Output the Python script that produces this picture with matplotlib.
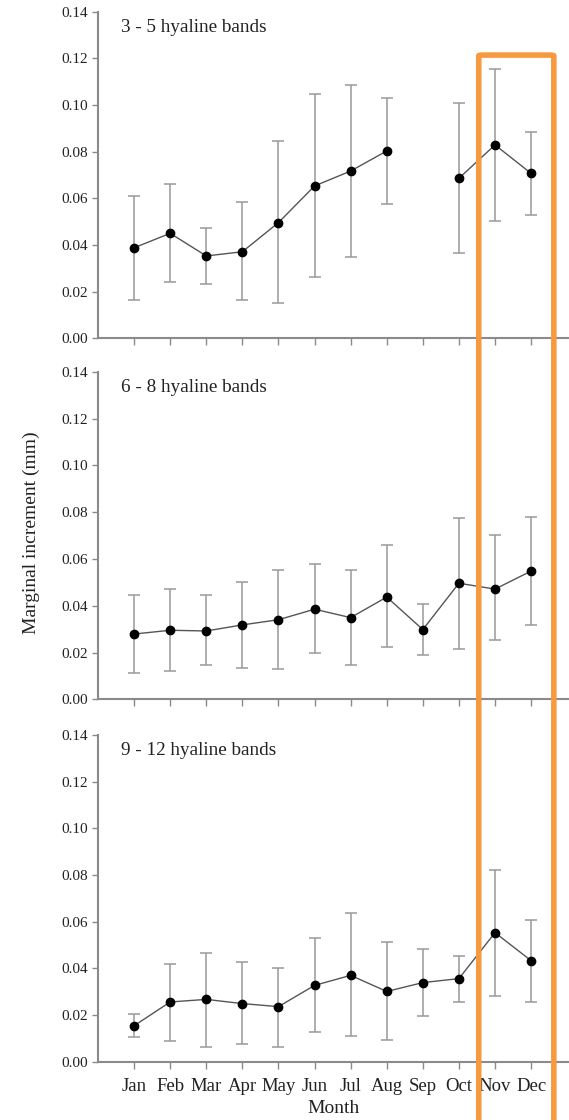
import numpy as np
import matplotlib
matplotlib.use("Agg")
import matplotlib.pyplot as plt
from matplotlib.patches import FancyBboxPatch

plt.rcParams['font.family'] = ['Liberation Serif', 'DejaVu Serif']

months = ["Jan", "Feb", "Mar", "Apr", "May", "Jun", "Jul", "Aug", "Sep", "Oct", "Nov", "Dec"]
panel_titles = ["3 - 5 hyaline bands", "6 - 8 hyaline bands", "9 - 12 hyaline bands"]
yticks = [0.00, 0.02, 0.04, 0.06, 0.08, 0.10, 0.12, 0.14]

nan = np.nan
# 3 - 5 hyaline bands (Sep missing)
mean_1 = [0.0388, 0.0450, 0.0353, 0.0371, 0.0496, 0.0653, 0.0717, 0.0803, nan, 0.0686, 0.0829, 0.0707]
upper_1 = [0.0611, 0.0660, 0.0471, 0.0583, 0.0844, 0.1046, 0.1084, 0.1031, nan, 0.1007, 0.1156, 0.0883]
lower_1 = [0.0164, 0.0240, 0.0233, 0.0164, 0.0153, 0.0264, 0.0350, 0.0574, nan, 0.0364, 0.0504, 0.0527]
# 6 - 8 hyaline bands
mean_2 = [0.0279, 0.0295, 0.0292, 0.0318, 0.0340, 0.0385, 0.0349, 0.0437, 0.0298, 0.0496, 0.0471, 0.0548]
upper_2 = [0.0446, 0.0470, 0.0446, 0.0503, 0.0554, 0.0577, 0.0554, 0.0659, 0.0406, 0.0775, 0.0702, 0.0779]
lower_2 = [0.0114, 0.0122, 0.0147, 0.0135, 0.0130, 0.0199, 0.0147, 0.0224, 0.0191, 0.0215, 0.0254, 0.0318]
# 9 - 12 hyaline bands
mean_3 = [0.0154, 0.0256, 0.0267, 0.0249, 0.0236, 0.0327, 0.0370, 0.0301, 0.0339, 0.0356, 0.0553, 0.0433]
upper_3 = [0.0203, 0.0420, 0.0467, 0.0427, 0.0400, 0.0529, 0.0637, 0.0513, 0.0481, 0.0453, 0.0823, 0.0606]
lower_3 = [0.0104, 0.0090, 0.0064, 0.0074, 0.0064, 0.0126, 0.0111, 0.0091, 0.0196, 0.0256, 0.0281, 0.0257]

means = [mean_1, mean_2, mean_3]
uppers = [upper_1, upper_2, upper_3]
lowers = [lower_1, lower_2, lower_3]

W, H = 569, 1120
fig = plt.figure(figsize=(W / 100, H / 100), dpi=100)

# panel extents in pixels (top, bottom)
panels_px = [(11.7, 338.3), (371.7, 699.3), (735.0, 1061.7)]
left_px, right_px = 98, 569

x = np.arange(1, 13)
spine_col = '#8a8a8a'
axes = []
for i, (top, bot) in enumerate(panels_px):
    ax = fig.add_axes([left_px / W, 1 - bot / H, (right_px - left_px) / W, (bot - top) / H])
    axes.append(ax)
    m = np.array(means[i], dtype=float)
    up = np.array(uppers[i], dtype=float)
    lo = np.array(lowers[i], dtype=float)
    ax.errorbar(x, m, yerr=[m - lo, up - m], fmt='none', ecolor='#999999',
                elinewidth=1.1, capsize=4.5, capthick=1.1, zorder=2)
    ax.plot(x, m, '-', color='#555555', lw=1.0, zorder=3)
    ax.plot(x, m, 'o', color='black', ms=6, zorder=4)
    ax.set_xlim(0, 13.05)
    ax.set_ylim(0, 0.14)
    ax.set_yticks(yticks)
    ax.set_yticklabels([f"{v:.2f}" for v in yticks], fontsize=11)
    ax.set_xticks(x)
    for s in ['top', 'right']:
        ax.spines[s].set_visible(False)
    for s in ['left', 'bottom']:
        ax.spines[s].set_color(spine_col)
        ax.spines[s].set_linewidth(1.5)
    ax.spines['left'].set_bounds(0, 0.14)
    ax.tick_params(axis='y', direction='out', length=4, width=1, color=spine_col, pad=3, labelcolor='#222222')
    ax.tick_params(axis='x', direction='out', length=5, width=1, color=spine_col, pad=7, labelcolor='#222222')
    ax.text(0.049, 0.952, panel_titles[i], transform=ax.transAxes, fontsize=13.8,
            va='center', ha='left', color='#222222')
    if i < 2:
        ax.set_xticklabels([])
    else:
        ax.set_xticklabels(months, fontsize=13.5)
        ax.set_xlabel("Month", fontsize=14, labelpad=3, color='#222222')

fig.text(31 / W, 1 - 533 / H, "Marginal increment (mm)", rotation=90, fontsize=14,
         va='center', ha='center', color='#222222')

# orange highlight around Nov-Dec, drawn above all panels
ax1 = axes[0]
rect = FancyBboxPatch((10.55, -0.34), 2.08, 0.4614, boxstyle="round,pad=0,rounding_size=0.08",
                      transform=ax1.transData, fill=False, edgecolor='#F7993F', lw=4,
                      clip_on=False, zorder=10, mutation_aspect=0.005)
fig.add_artist(rect)

fig.savefig("out.png", dpi=100)
